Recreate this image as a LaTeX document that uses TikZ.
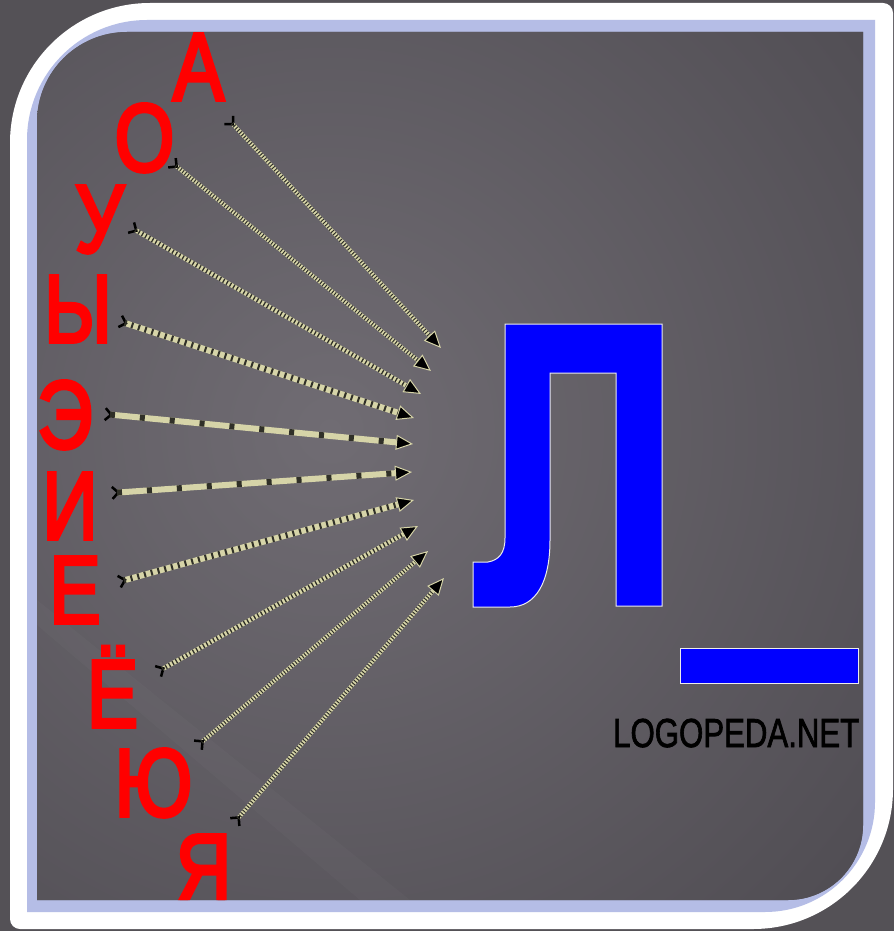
\documentclass[tikz,border=0pt]{standalone}
\usepackage{fontspec}
\setmainfont{Liberation Sans}
\newfontfamily\vowelfont[FakeBold=4]{Liberation Sans}
\newfontfamily\logofont[FakeBold=2]{Liberation Sans}
\usetikzlibrary{arrows.meta}
\definecolor{outerbg}{RGB}{84,81,86}
\definecolor{bandblue}{RGB}{181,189,230}
\definecolor{innerbg}{RGB}{100,96,103}
\definecolor{innerlight}{RGB}{112,108,115}
\definecolor{innerdark}{RGB}{80,77,83}
\definecolor{ropec}{RGB}{214,212,168}
\definecolor{ropedk}{RGB}{48,48,40}
\definecolor{lblue}{RGB}{0,0,255}
\tikzset{
  letter/.style={inner sep=0pt, anchor=base, text=red, text height=69pt, text depth=0pt,
    font=\vowelfont\fontsize{96}{96}\selectfont},
  rope/.style 2 args={draw=ropec, line width=#1,
    {Straight Barb[reversed,length=6pt,width=12pt,line width=2.5pt,color=black]}-{Triangle[length=17pt,width=15pt,fill=black,line width=1pt]},
    postaction={draw=ropedk, -, line width=#1, dash pattern=#2, shorten >=17pt, shorten <=6pt}},
  fine/.style={rope={4pt}{on 1pt off 2pt}},
  medium/.style={rope={4.5pt}{on 1.3pt off 2.6pt}},
  bead/.style={rope={6pt}{on 2pt off 5pt}},
  ribbon/.style={rope={6pt}{on 5pt off 25pt}},
}
\newcommand{\ltr}[1]{\scalebox{0.8}[1]{#1}}
\begin{document}
\begin{tikzpicture}[x=1pt,y=-1pt]
\useasboundingbox (0,0) rectangle (894,931);
\fill[outerbg] (0,0) rectangle (894,931);
% white frame
\fill[white] (10,143) .. controls (10,65.7) and (72.7,3) .. (150,3) -- (883,3)
  .. controls (888.5,3) and (893,7.5) .. (893,13) -- (893,789)
  .. controls (893,866.3) and (830.3,929) .. (753,929) -- (20,929)
  .. controls (14.5,929) and (10,924.5) .. (10,919) -- cycle;
% blue band
\fill[bandblue] (27,140) .. controls (27,73.8) and (80.8,20) .. (147,20) -- (875,20)
  -- (875,802) .. controls (875,862.7) and (825.7,912) .. (765,912) -- (27,912) -- cycle;
% inner area
\begin{scope}
\clip (37,122) .. controls (37,72.3) and (77.3,32) .. (127,32) -- (863,32)
  -- (863,825) .. controls (863,866.4) and (829.4,900) .. (788,900) -- (37,900) -- cycle;
\fill[innerbg] (0,0) rectangle (894,931);
\shade[inner color=innerlight, outer color=innerdark] (330,430) circle (700);
\fill[white, opacity=0.025] (37,600) -- (37,625) -- (360,900) -- (410,900) -- cycle;
% vowels
\node[letter] (a)  at (198.5,100) {\ltr{А}};
\node[letter] (o)  at (144.5,171) {\ltr{О}};
\node[letter] (u)  at (99.5,252)  {\ltr{У}};
\node[letter] (y)  at (78,342)    {\ltr{Ы}};
\node[letter] (e1) at (65,448)    {\ltr{Э}};
\node[letter] (i)  at (70,539)    {\ltr{И}};
\node[letter] (e2) at (75,623)    {\ltr{Е}};
\node[letter, text height=78pt] (yo) at (112.5,727) {\ltr{Ё}};
\node[letter] (yu) at (153.5,816) {\ltr{Ю}};
\node[letter] (ya) at (203.5,901) {\ltr{Я}};
% arrow ends
\coordinate (ta) at (228,119);  \coordinate (ha) at (441,348);
\coordinate (to) at (171,162);  \coordinate (ho) at (431,371);
\coordinate (tu) at (130,227);  \coordinate (hu) at (421,394);
\coordinate (ty) at (119,321);  \coordinate (hy) at (414,418);
\coordinate (te1) at (104,414); \coordinate (he1) at (413,444);
\coordinate (ti) at (111,493);  \coordinate (hi) at (412,472);
\coordinate (te2) at (118,582); \coordinate (he2) at (414,500);
\coordinate (tyo) at (157,672); \coordinate (hyo) at (418,526);
\coordinate (tyu) at (197,746); \coordinate (hyu) at (428,551);
\coordinate (tya) at (234,823); \coordinate (hya) at (444,578);
\draw[fine] (ta) -- (ha);
\draw[fine] (to) -- (ho);
\draw[medium] (tu) -- (hu);
\draw[bead] (ty) -- (hy);
\draw[ribbon] (te1) -- (he1);
\draw[ribbon] (ti) -- (hi);
\draw[bead] (te2) -- (he2);
\draw[medium] (tyo) -- (hyo);
\draw[fine] (tyu) -- (hyu);
\draw[fine] (tya) -- (hya);
% consonant
\path[fill=lblue, draw=white!85!gray, line width=1pt]
  (505,324) -- (662,324) -- (662,606) -- (616,606) -- (616,373) -- (550,373)
  -- (550,540) .. controls (550,582) and (536,607) .. (510,607) -- (473,607)
  -- (473,562) -- (488,562) .. controls (499,560) and (505,553) .. (505,538) -- cycle;
\node[draw=white!85!gray, line width=1pt, fill=lblue, inner sep=0pt,
  minimum width=178pt, minimum height=35pt, anchor=north west] (bar) at (680,648) {};
\node[inner sep=0pt, anchor=base west, text=black, font=\logofont\fontsize{40.5}{40.5}\selectfont]
  (logo) at (613,747) {\scalebox{0.77}[1]{LOGOPEDA.NET}};
\end{scope}
\end{tikzpicture}
\end{document}
